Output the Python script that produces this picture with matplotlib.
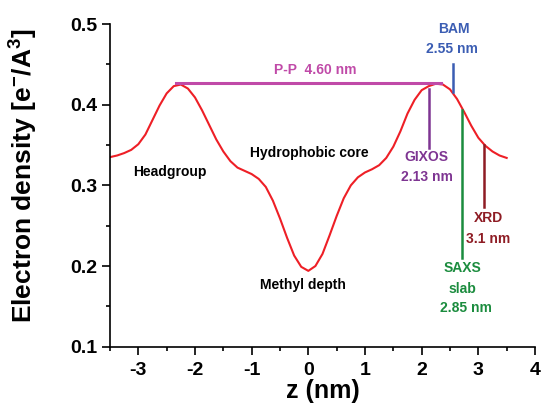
import matplotlib
matplotlib.use("Agg")
import matplotlib.pyplot as plt
from matplotlib.ticker import MultipleLocator

plt.rcParams['font.family'] = ['Liberation Sans', 'DejaVu Sans']
plt.rcParams['font.weight'] = 'bold'
plt.rcParams['mathtext.default'] = 'regular'

# electron density profile
z = [-3.5, -3.375, -3.25, -3.125, -3.0, -2.875, -2.75, -2.625, -2.5, -2.375,
     -2.25, -2.125, -2.0, -1.875, -1.75, -1.625, -1.5, -1.375, -1.25, -1.125,
     -1.0, -0.875, -0.75, -0.625, -0.5, -0.375, -0.25, -0.125, 0.0,
     0.125, 0.25, 0.375, 0.5, 0.625, 0.75, 0.875, 1.0, 1.125, 1.25,
     1.375, 1.5, 1.625, 1.75, 1.875, 2.0, 2.125, 2.25, 2.375, 2.5,
     2.625, 2.75, 2.875, 3.0, 3.125, 3.25, 3.375, 3.5]
density = [0.335, 0.337, 0.340, 0.344, 0.351, 0.363, 0.381, 0.399, 0.414, 0.423,
           0.425, 0.420, 0.409, 0.393, 0.375, 0.357, 0.342, 0.330, 0.322, 0.318,
           0.314, 0.308, 0.298, 0.281, 0.259, 0.235, 0.213, 0.199, 0.194,
           0.200, 0.215, 0.238, 0.262, 0.284, 0.300, 0.310, 0.316, 0.320, 0.325,
           0.334, 0.348, 0.367, 0.389, 0.406, 0.418, 0.423, 0.426, 0.425, 0.419,
           0.407, 0.391, 0.374, 0.359, 0.349, 0.342, 0.337, 0.334]

# peak-to-peak marker
pp_z = [-2.34, 2.34]
pp_level = 0.427

# thickness markers: name, z position, line bottom, line top, colour
marker_names = ['BAM', 'GIXOS', 'SAXS', 'XRD']
marker_z = [2.56, 2.135, 2.71, 3.10]
marker_bottom = [0.416, 0.346, 0.2095, 0.2735]
marker_top = [0.451, 0.420, 0.394, 0.350]
marker_colors = ['#3b5db3', '#7e3592', '#1b8c3e', '#8e1c24']

fig = plt.figure(figsize=(5.41, 4.03), dpi=100)
ax = fig.add_axes([0.2033, 0.1397, 0.7856, 0.8007])

ax.plot(z, density, color='#ee1f26', lw=1.5, solid_joinstyle='round')
ax.plot(pp_z, [pp_level, pp_level], color='#c04aa8', lw=2.2)
for zz, lo, hi, c in zip(marker_z, marker_bottom, marker_top, marker_colors):
    ax.plot([zz, zz], [lo, hi], color=c, lw=1.8)

fs = 10
ax.text(0.12, 0.4425, 'P-P  4.60 nm', color='#c04aa8', fontsize=fs, ha='center', va='center')
ax.text(2.57, 0.4935, 'BAM', color=marker_colors[0], fontsize=fs, ha='center', va='center')
ax.text(2.54, 0.4696, '2.55 nm', color=marker_colors[0], fontsize=fs, ha='center', va='center')
ax.text(2.08, 0.3355, 'GIXOS', color=marker_colors[1], fontsize=fs, ha='center', va='center')
ax.text(2.09, 0.3107, '2.13 nm', color=marker_colors[1], fontsize=fs, ha='center', va='center')
ax.text(2.72, 0.197, 'SAXS', color=marker_colors[2], fontsize=fs, ha='center', va='center')
ax.text(2.72, 0.1715, 'slab', color=marker_colors[2], fontsize=fs, ha='center', va='center')
ax.text(2.78, 0.1476, '2.85 nm', color=marker_colors[2], fontsize=fs, ha='center', va='center')
ax.text(3.18, 0.259, 'XRD', color=marker_colors[3], fontsize=fs, ha='center', va='center')
ax.text(3.18, 0.234, '3.1 nm', color=marker_colors[3], fontsize=fs, ha='center', va='center')
ax.text(-2.44, 0.3168, 'Headgroup', color='black', fontsize=fs, ha='center', va='center')
ax.text(0.02, 0.3397, 'Hydrophobic core', color='black', fontsize=fs, ha='center', va='center')
ax.text(-0.1, 0.177, 'Methyl depth', color='black', fontsize=fs, ha='center', va='center')

ax.set_xlim(-3.5, 4)
ax.set_ylim(0.1, 0.5)
ax.xaxis.set_minor_locator(MultipleLocator(0.5))
ax.yaxis.set_minor_locator(MultipleLocator(0.05))
ax.set_yticks([0.1, 0.2, 0.3, 0.4, 0.5])
ax.set_yticklabels(['0.1', '0.2', '0.3', '0.4', '0.5'])
ax.set_xticks([-3, -2, -1, 0, 1, 2, 3, 4])
ax.set_xticklabels(['-3', '-2', '-1', '0', '1', '2', '3', '4'])

for side in ['top', 'right']:
    ax.spines[side].set_visible(False)
for side in ['left', 'bottom']:
    ax.spines[side].set_linewidth(1.2)
ax.tick_params(which='major', length=6, width=1.2, labelsize=14, pad=3)
ax.tick_params(axis='x', which='major', pad=5)
ax.tick_params(which='minor', length=3, width=1.2)
for lab in ax.get_xticklabels() + ax.get_yticklabels():
    lab.set_fontweight('bold')

ax.set_xlabel('z (nm)', fontsize=18, fontweight='bold', labelpad=0)
ax.set_ylabel('Electron density [e$^{-}$/A$^{3}$]', fontsize=19, fontweight='bold')
ax.yaxis.set_label_coords(-0.165, 0.53)

fig.savefig('out.png', dpi=100)
